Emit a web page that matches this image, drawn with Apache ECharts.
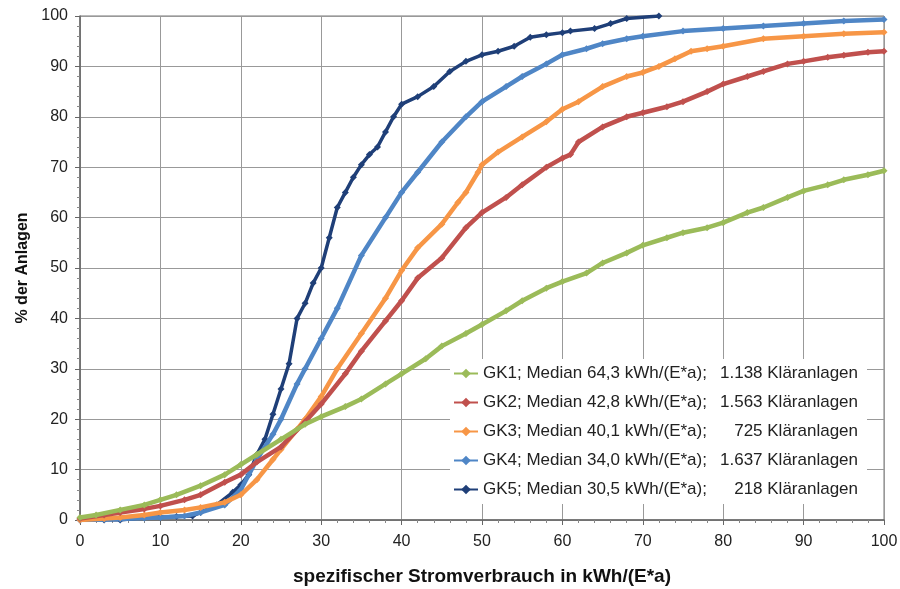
<!DOCTYPE html>
<html><head><meta charset="utf-8">
<script src="https://cdn.jsdelivr.net/npm/echarts@6/dist/echarts.min.js"></script>
<style>html,body{margin:0;padding:0;background:#fff}#c{width:900px;height:589px}</style>
</head><body><div id="c"></div>
<script>
var seriesNames = [
  ['GK1; Median 64,3 kWh/(E*a);', '1.138 Kläranlagen'],
  ['GK2; Median 42,8 kWh/(E*a);', '1.563 Kläranlagen'],
  ['GK3; Median 40,1 kWh/(E*a);', '725 Kläranlagen'],
  ['GK4; Median 34,0 kWh/(E*a);', '1.637 Kläranlagen'],
  ['GK5; Median 30,5 kWh/(E*a);', '218 Kläranlagen']
];
var colors = ['#9BBB59', '#C0504D', '#F79646', '#4F86C6', '#1F3F78'];
var gk1 = [[0,0.5],[2,1],[5,2],[8,3],[10,4],[12,5],[15,6.8],[18,9],[20,11],[22,13],[25,16],[28,19],[30,20.5],[33,22.5],[35,24],[38,27],[40,29],[43,32],[45,34.5],[48,37],[50,38.8],[53,41.5],[55,43.5],[58,46],[60,47.3],[63,49],[65,51],[68,53],[70,54.5],[73,56],[75,57],[78,58],[80,59],[83,61],[85,62],[88,64],[90,65.3],[93,66.5],[95,67.5],[98,68.5],[100,69.3]];
var gk2 = [[0,0.3],[3,1],[5,1.5],[8,2.2],[10,2.8],[13,4],[15,5],[18,7.5],[20,9],[22,11.5],[25,14.5],[28,19.5],[30,23],[33,29],[35,33.5],[38,39.5],[40,43.5],[42,48],[45,52],[48,58],[50,61],[53,64],[55,66.5],[58,70],[60,71.8],[61,72.5],[62,75],[65,78],[68,80],[70,80.8],[73,82],[75,83],[78,85],[80,86.5],[83,88],[85,89],[88,90.5],[90,91],[93,91.8],[95,92.2],[98,92.8],[100,93]];
var gk3 = [[0,0],[3,0.3],[5,0.5],[8,1],[10,1.5],[13,2],[15,2.5],[18,3.5],[20,5],[22,8],[24,12],[25,14],[27,18],[28,20],[30,24.5],[32,30],[35,37],[38,44],[40,49.5],[42,54],[45,58.7],[47,63],[48,65],[49.5,69],[50,70.5],[52,73],[55,76],[58,79],[60,81.5],[62,83],[65,86],[68,88],[70,88.8],[72,90],[74,91.5],[76,93],[78,93.5],[80,94],[85,95.5],[90,96],[95,96.5],[100,96.8]];
var gk4 = [[0,0],[3,0.1],[5,0.2],[8,0.4],[10,0.5],[13,0.8],[15,1.5],[18,3],[20,6],[22,12],[24,17],[25,20],[27,27],[28,30],[30,36],[32,42],[35,52.5],[38,60],[40,65],[42,69],[45,75],[48,80],[50,83],[53,86],[55,88],[58,90.5],[60,92.3],[63,93.5],[65,94.5],[68,95.5],[70,96],[75,97],[80,97.5],[85,98],[90,98.5],[95,99],[100,99.3]];
var gk5 = [[0,0],[3,0],[5,0],[8,0.5],[10,0.6],[12,0.7],[14,0.8],[15,1.5],[17,3],[19,5.5],[20,7],[21,9],[22,13],[23,16],[24,21],[25,26],[26,31],[27,40],[28,43],[29,47],[30,50],[31,56],[32,62],[33,65],[34,68],[35,70.5],[36,72.5],[37,74],[38,77],[39,80],[40,82.5],[42,84],[44,86],[46,89],[48,91],[50,92.3],[52,93],[54,94],[56,95.8],[58,96.3],[60,96.7],[61,97],[64,97.5],[66,98.5],[68,99.5],[72,100]];
var allData = [gk1, gk2, gk3, gk4, gk5];
var xTicks = [0, 100, 10];
var yTicks = [0, 100, 10];

var chart = echarts.init(document.getElementById('c'));
var series = allData.map(function (d, i) {
  return {
    name: seriesNames[i][0] + '|' + seriesNames[i][1],
    type: 'line',
    data: d,
    symbol: 'diamond',
    symbolSize: 7,
    showSymbol: true,
    lineStyle: { width: i === 4 ? 3.5 : 4.5, color: colors[i] },
    itemStyle: { color: colors[i] },
    z: 10 - i
  };
});
chart.setOption({
  animation: false,
  backgroundColor: '#fff',
  textStyle: { fontFamily: 'Liberation Sans, Arial, sans-serif' },
  grid: { left: 80, right: 16, top: 16, bottom: 69, containLabel: false, outerBoundsMode: 'none',
    show: true, borderColor: '#777', borderWidth: 1 },
  xAxis: {
    type: 'value', min: xTicks[0], max: xTicks[1], interval: xTicks[2],
    name: 'spezifischer Stromverbrauch in kWh/(E*a)', nameLocation: 'middle', nameGap: 47,
    nameTextStyle: { fontSize: 19, fontWeight: 'bold', color: '#111' },
    axisLine: { lineStyle: { color: '#666', width: 1.5 } },
    axisTick: { show: true, length: 5, lineStyle: { color: '#666' } },
    minorTick: { show: true, splitNumber: 5, length: 3, lineStyle: { color: '#888' } },
    axisLabel: { fontSize: 16, color: '#222', margin: 14 },
    splitLine: { show: true, lineStyle: { color: '#999', width: 1 } }
  },
  yAxis: {
    type: 'value', min: yTicks[0], max: yTicks[1], interval: yTicks[2],
    name: '% der Anlagen', nameLocation: 'middle', nameGap: 45, nameRotate: 90,
    nameTextStyle: { fontSize: 16, fontWeight: 'bold', color: '#111' },
    axisLine: { show: true, lineStyle: { color: '#666', width: 1.5 } },
    axisTick: { show: true, length: 5, lineStyle: { color: '#666' } },
    minorTick: { show: true, splitNumber: 5, length: 3, lineStyle: { color: '#888' } },
    axisLabel: { fontSize: 16, color: '#222', margin: 12 },
    splitLine: { show: true, lineStyle: { color: '#999', width: 1 } }
  },
  legend: {
    orient: 'vertical', left: 450, top: 359,
    backgroundColor: '#fff', padding: [6, 9, 6, 3],
    itemWidth: 24, itemHeight: 12, itemGap: 12,
    textStyle: { fontSize: 17, color: '#222',
      rich: {
        a: { fontSize: 17, lineHeight: 17, color: '#222', width: 234 },
        b: { fontSize: 17, lineHeight: 17, color: '#222', width: 141, align: 'right' }
      }
    },
    formatter: function (name) {
      var p = name.split('|');
      return '{a|' + p[0] + '}{b|' + p[1] + '}';
    },
    data: series.map(function (s) { return s.name; })
  },
  series: series
});
</script></body></html>
